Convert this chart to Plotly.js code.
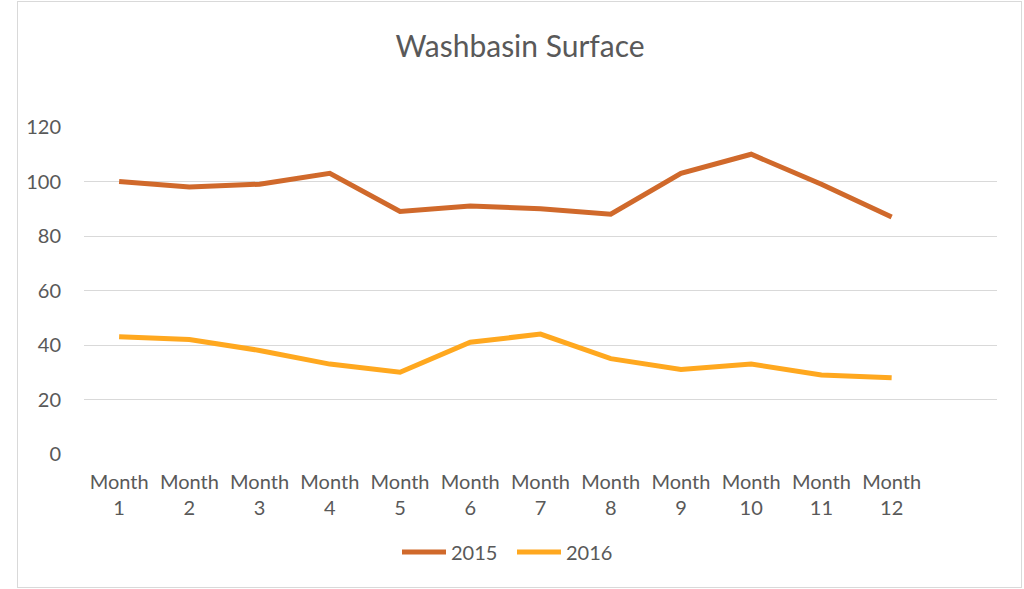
<!DOCTYPE html>
<html>
<head>
<meta charset="utf-8">
<script src="https://cdn.plot.ly/plotly-3.0.1.min.js"></script>
<style>
  html, body { margin: 0; padding: 0; background: #fff; }
  #wrap { position: relative; width: 1024px; height: 589px; }
  #chart { position: absolute; left: 0; top: 0; width: 1024px; height: 589px; }
  #frame { position: absolute; left: 17px; top: 1px; width: 1003px; height: 585px;
           border: 1px solid #d9d9d9; pointer-events: none; }
</style>
</head>
<body>
<div id="wrap">
  <div id="chart"></div>
  <div id="frame"></div>
</div>
<script>
  "use strict";

  var months = ['Month<br>1', 'Month<br>2', 'Month<br>3', 'Month<br>4', 'Month<br>5', 'Month<br>6',
                'Month<br>7', 'Month<br>8', 'Month<br>9', 'Month<br>10', 'Month<br>11', 'Month<br>12'];
  var values2015 = [100, 98, 99, 103, 89, 91, 90, 88, 103, 110, 99, 87];
  var values2016 = [43, 42, 38, 33, 30, 41, 44, 35, 31, 33, 29, 28];
  var yTicks = [0, 20, 40, 60, 80, 100, 120];

  var textColor = '#595959';
  var font = 'Lato, "Open Sans", sans-serif';

  function series(name, values, color) {
    return {
      x: months,
      y: values,
      name: name,
      type: 'scatter',
      mode: 'lines',
      line: { color: color, width: 5 }
    };
  }

  var data = [
    series('2015', values2015, '#D0692B'),
    series('2016', values2016, '#FFA81F')
  ];

  var layout = {
    width: 1024,
    height: 589,
    paper_bgcolor: '#fff',
    plot_bgcolor: '#fff',
    margin: { l: 84, r: 27, t: 127, b: 135 },
    font: { family: font, color: textColor, size: 20 },
    title: {
      text: 'Washbasin Surface',
      font: { family: font, size: 30, color: textColor },
      x: 520 / 1024,
      xanchor: 'center',
      y: 1 - 46 / 589,
      yanchor: 'middle'
    },
    xaxis: {
      type: 'category',
      range: [-0.5, 12.5],
      automargin: false,
      tickangle: 0,
      showgrid: false,
      zeroline: false,
      showline: false,
      ticks: 'outside',
      ticklen: 10,
      tickcolor: 'rgba(0,0,0,0)',
      tickfont: { family: font, size: 20, color: textColor },
      fixedrange: true
    },
    yaxis: {
      range: [0, 120],
      automargin: false,
      tickvals: yTicks,
      showgrid: true,
      gridcolor: '#d9d9d9',
      gridwidth: 1,
      zeroline: false,
      showline: false,
      ticks: 'outside',
      ticklen: 18,
      tickcolor: 'rgba(0,0,0,0)',
      tickfont: { family: font, size: 20, color: textColor },
      fixedrange: true
    },
    showlegend: true,
    legend: {
      orientation: 'h',
      x: (512 - 84) / 913,
      xanchor: 'center',
      y: -0.30,
      yanchor: 'middle',
      font: { family: font, size: 20, color: textColor },
      itemwidth: 44,
      entrywidth: 56,
      entrywidthmode: 'pixels'
    }
  };

  Plotly.newPlot('chart', data, layout, { displayModeBar: false, staticPlot: true });
</script>
</body>
</html>
